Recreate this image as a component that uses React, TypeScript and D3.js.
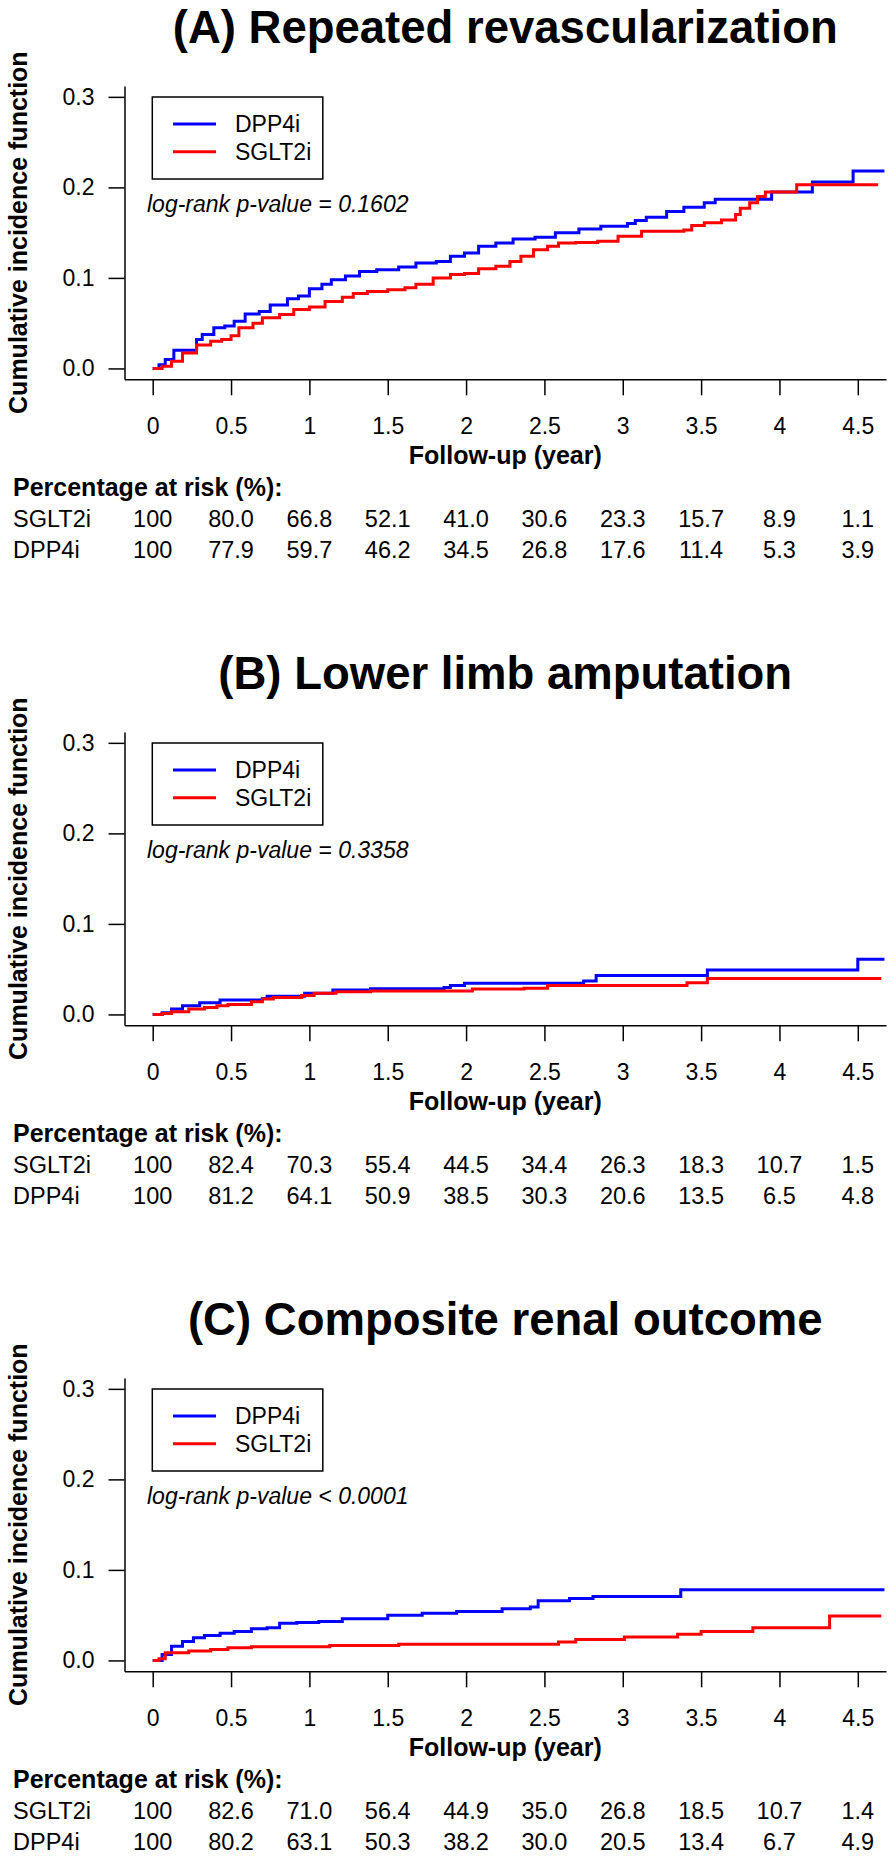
import React, { useRef, useEffect } from 'react';
import * as d3 from 'd3';

// panel titles and p-value notes
const titles = ['(A) Repeated revascularization', '(B) Lower limb amputation', '(C) Composite renal outcome'];
const pValues = ['log-rank p-value = 0.1602', 'log-rank p-value = 0.3358', 'log-rank p-value < 0.0001'];
const seriesNames = ['DPP4i', 'SGLT2i'];

const xTicks = [0, 0.5, 1, 1.5, 2, 2.5, 3, 3.5, 4, 4.5];
const yTicks = [0, 0.1, 0.2, 0.3];

// cumulative incidence, [year, value after the step]
const cifA_DPP4i = [[0, 0], [0.04, 0.004], [0.08, 0.01], [0.135, 0.02], [0.28, 0.032], [0.316, 0.0375], [0.39, 0.045], [0.46, 0.047], [0.52, 0.052], [0.59, 0.06], [0.68, 0.063], [0.75, 0.07], [0.86, 0.077], [0.93, 0.08], [1.0, 0.088], [1.08, 0.093], [1.14, 0.098], [1.23, 0.102], [1.32, 0.107], [1.43, 0.109], [1.57, 0.112], [1.68, 0.1165], [1.81, 0.118], [1.9, 0.124], [1.99, 0.1275], [2.08, 0.135], [2.19, 0.1385], [2.3, 0.143], [2.44, 0.145], [2.57, 0.15], [2.72, 0.154], [2.86, 0.157], [3.03, 0.16], [3.08, 0.1635], [3.15, 0.167], [3.28, 0.1735], [3.39, 0.178], [3.52, 0.183], [3.59, 0.187], [3.95, 0.195], [4.21, 0.206], [4.47, 0.218], [4.67, 0.218]];
const cifA_SGLT2i = [[0, 0], [0.06, 0.0025], [0.12, 0.008], [0.19, 0.017], [0.28, 0.026], [0.37, 0.03], [0.44, 0.032], [0.5, 0.036], [0.55, 0.045], [0.64, 0.05], [0.7, 0.056], [0.81, 0.0595], [0.9, 0.065], [1.0, 0.068], [1.1, 0.074], [1.21, 0.0787], [1.28, 0.0827], [1.37, 0.085], [1.5, 0.087], [1.61, 0.089], [1.68, 0.093], [1.79, 0.1], [1.9, 0.1037], [1.99, 0.105], [2.08, 0.11], [2.19, 0.113], [2.28, 0.118], [2.35, 0.124], [2.43, 0.131], [2.52, 0.135], [2.59, 0.1385], [2.7, 0.139], [2.84, 0.1404], [2.97, 0.146], [3.12, 0.1515], [3.39, 0.153], [3.44, 0.158], [3.52, 0.161], [3.63, 0.164], [3.72, 0.17], [3.75, 0.177], [3.81, 0.183], [3.86, 0.19], [3.91, 0.195], [4.11, 0.203], [4.63, 0.203]];

const cifB_DPP4i = [[0, 0], [0.06, 0.002], [0.12, 0.006], [0.19, 0.0095], [0.3, 0.013], [0.43, 0.016], [0.7, 0.0175], [0.73, 0.02], [0.97, 0.0235], [1.15, 0.027], [1.39, 0.0285], [1.86, 0.0297], [1.9, 0.032], [1.99, 0.0344], [2.75, 0.037], [2.83, 0.043], [3.54, 0.049], [4.5, 0.061], [4.67, 0.061]];
const cifB_SGLT2i = [[0, 0], [0.06, 0.001], [0.12, 0.003], [0.23, 0.006], [0.33, 0.0077], [0.41, 0.0095], [0.48, 0.011], [0.63, 0.014], [0.7, 0.017], [0.77, 0.0187], [0.95, 0.021], [1.03, 0.0235], [1.17, 0.025], [1.39, 0.026], [2.04, 0.028], [2.37, 0.029], [2.52, 0.032], [3.41, 0.035], [3.54, 0.0396], [4.65, 0.0396]];

const cifC_DPP4i = [[0, 0], [0.06, 0.0066], [0.12, 0.0158], [0.19, 0.021], [0.26, 0.025], [0.33, 0.0275], [0.43, 0.03], [0.52, 0.032], [0.63, 0.035], [0.73, 0.036], [0.81, 0.041], [0.92, 0.042], [1.06, 0.043], [1.21, 0.046], [1.5, 0.05], [1.72, 0.052], [1.94, 0.054], [2.23, 0.057], [2.41, 0.059], [2.46, 0.066], [2.66, 0.0685], [2.81, 0.0707], [3.37, 0.078], [4.67, 0.078]];
const cifC_SGLT2i = [[0, 0], [0.04, 0.002], [0.08, 0.0084], [0.23, 0.0103], [0.37, 0.012], [0.48, 0.014], [0.63, 0.015], [1.13, 0.0165], [1.57, 0.018], [2.59, 0.0205], [2.7, 0.023], [3.01, 0.026], [3.35, 0.029], [3.5, 0.032], [3.83, 0.036], [4.32, 0.049], [4.65, 0.049]];

// percentage at risk, one value per x tick
const riskA_SGLT2i = ['100', '80.0', '66.8', '52.1', '41.0', '30.6', '23.3', '15.7', '8.9', '1.1'];
const riskA_DPP4i = ['100', '77.9', '59.7', '46.2', '34.5', '26.8', '17.6', '11.4', '5.3', '3.9'];
const riskB_SGLT2i = ['100', '82.4', '70.3', '55.4', '44.5', '34.4', '26.3', '18.3', '10.7', '1.5'];
const riskB_DPP4i = ['100', '81.2', '64.1', '50.9', '38.5', '30.3', '20.6', '13.5', '6.5', '4.8'];
const riskC_SGLT2i = ['100', '82.6', '71.0', '56.4', '44.9', '35.0', '26.8', '18.5', '10.7', '1.4'];
const riskC_DPP4i = ['100', '80.2', '63.1', '50.3', '38.2', '30.0', '20.5', '13.4', '6.7', '4.9'];

const panels = [
    { title: titles[0], p: pValues[0], dpp: cifA_DPP4i, sglt: cifA_SGLT2i, riskS: riskA_SGLT2i, riskD: riskA_DPP4i },
    { title: titles[1], p: pValues[1], dpp: cifB_DPP4i, sglt: cifB_SGLT2i, riskS: riskB_SGLT2i, riskD: riskB_DPP4i },
    { title: titles[2], p: pValues[2], dpp: cifC_DPP4i, sglt: cifC_SGLT2i, riskS: riskC_SGLT2i, riskD: riskC_DPP4i },
];

function App() {

    const ref = useRef(null);

    useEffect(() => {
        const width = 894;
        const height = 1861;
        const panelStep = 646;
        const font = '"Liberation Sans", Arial, Helvetica, sans-serif';
        const plot = { left: 124.5, right: 886, top: 86, bottom: 379.3 };

        const svg = d3.select(ref.current);
        svg.selectAll('*').remove();
        svg.append('rect').attr('width', width).attr('height', height).attr('fill', '#fff');

        const x = d3.scaleLinear().domain([-0.18, 4.68]).range([plot.left, plot.right]);
        const y = d3.scaleLinear().domain([-0.012, 0.312]).range([plot.bottom, plot.top]);

        const line = d3.line()
            .x(d => x(d[0]))
            .y(d => y(d[1]))
            .curve(d3.curveStepAfter);

        panels.forEach((p, i) => {
            const g = svg.append('g')
                .attr('transform', `translate(0,${i * panelStep})`)
                .attr('font-family', font);

            g.append('text')
                .attr('x', (plot.left + plot.right) / 2)
                .attr('y', 43)
                .attr('text-anchor', 'middle')
                .attr('font-size', 45.5)
                .attr('font-weight', 'bold')
                .text(p.title);

            g.append('text')
                .attr('transform', `translate(27,${(plot.top + plot.bottom) / 2}) rotate(-90)`)
                .attr('text-anchor', 'middle')
                .attr('font-size', 25)
                .attr('font-weight', 'bold')
                .text('Cumulative incidence function');

            // axes
            const yAxis = d3.axisLeft(y)
                .tickValues(yTicks)
                .tickFormat(d3.format('.1f'))
                .tickSize(16)
                .tickSizeOuter(0)
                .tickPadding(14);
            const ya = g.append('g')
                .attr('transform', `translate(${plot.left},0)`)
                .call(yAxis);

            const xAxis = d3.axisBottom(x)
                .tickValues(xTicks)
                .tickFormat(d => String(d))
                .tickSize(16)
                .tickSizeOuter(0)
                .tickPadding(22);
            const xa = g.append('g')
                .attr('transform', `translate(0,${plot.bottom})`)
                .call(xAxis);

            [ya, xa].forEach(a => {
                a.attr('font-family', font).attr('font-size', 23);
                a.selectAll('path, line').attr('stroke', '#000').attr('stroke-width', 1.5);
                a.selectAll('text').attr('fill', '#000');
            });

            g.append('text')
                .attr('x', (plot.left + plot.right) / 2)
                .attr('y', 464)
                .attr('text-anchor', 'middle')
                .attr('font-size', 25)
                .attr('font-weight', 'bold')
                .text('Follow-up (year)');

            // curves
            g.append('path')
                .attr('d', line(p.dpp))
                .attr('fill', 'none')
                .attr('stroke', '#0000ff')
                .attr('stroke-width', 3);
            g.append('path')
                .attr('d', line(p.sglt))
                .attr('fill', 'none')
                .attr('stroke', '#ff0000')
                .attr('stroke-width', 3);

            // legend
            g.append('rect')
                .attr('x', 152.3)
                .attr('y', 97)
                .attr('width', 170.5)
                .attr('height', 82)
                .attr('fill', '#fff')
                .attr('stroke', '#000')
                .attr('stroke-width', 1.5);
            const legendColors = ['#0000ff', '#ff0000'];
            seriesNames.forEach((name, k) => {
                const ly = 124 + k * 27.7;
                g.append('line')
                    .attr('x1', 173).attr('x2', 216)
                    .attr('y1', ly).attr('y2', ly)
                    .attr('stroke', legendColors[k])
                    .attr('stroke-width', 3);
                g.append('text')
                    .attr('x', 235)
                    .attr('y', ly + 8)
                    .attr('font-size', 23)
                    .text(name);
            });

            g.append('text')
                .attr('x', 147)
                .attr('y', 212)
                .attr('font-size', 23)
                .attr('font-style', 'italic')
                .text(p.p);

            // risk table
            g.append('text')
                .attr('x', 13)
                .attr('y', 496)
                .attr('font-size', 25)
                .attr('font-weight', 'bold')
                .text('Percentage at risk (%):');

            const rows = [['SGLT2i', p.riskS], ['DPP4i', p.riskD]];
            rows.forEach(([label, vals], r) => {
                const by = 527 + r * 30.6;
                g.append('text')
                    .attr('x', 13)
                    .attr('y', by)
                    .attr('font-size', 23.5)
                    .text(label);
                g.selectAll(null)
                    .data(vals)
                    .enter()
                    .append('text')
                    .attr('x', (d, j) => x(xTicks[j]))
                    .attr('y', by)
                    .attr('text-anchor', 'middle')
                    .attr('font-size', 23.5)
                    .text(d => d);
            });
        });
    }, []);

    return (
        <svg
            ref={ref}
            width={894}
            height={1861}
            style={{ position: 'absolute', left: 0, top: 0, display: 'block' }}
        ></svg>
    );
}

export default App;
